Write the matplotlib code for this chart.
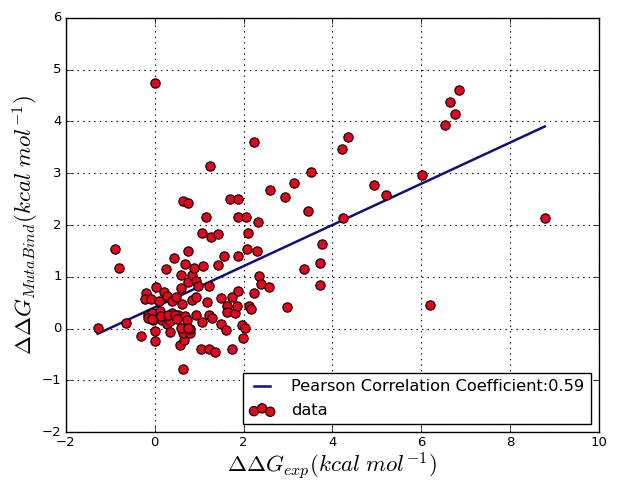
import matplotlib
matplotlib.use("Agg")
import matplotlib.pyplot as plt
import numpy as np

plt.style.use('classic')

# Experimental ddG values (x) and predicted ddG values (y)
ddg_exp = [-1.28, -0.90, -0.81, -0.64, -0.31, 0.00, 0.00, -0.20, -0.22, -0.09,
           -0.15, -0.07, -0.16, -0.03, 0.00, 0.03, 0.09, 0.12, 0.17, 0.15,
           0.21, 0.27, 0.26, 0.27, 0.34, 0.38, 0.34, 0.38, 0.44, 0.47,
           0.47, 0.53, 0.57, 0.60, 0.64, 0.75, 0.66, 0.64, 0.62, 0.68,
           0.72, 0.68, 0.60, 0.75, 0.74, 0.64, 0.79, 0.79, 0.83, 0.89,
           0.85, 0.94, 0.92, 0.98, 0.94, 1.06, 1.04, 1.06, 1.09, 1.16,
           1.17, 1.22, 1.22, 1.28, 1.22, 1.24, 1.27, 1.36, 1.43, 1.43,
           1.49, 1.49, 1.57, 1.60, 1.63, 1.62, 1.69, 1.75, 1.75, 1.81,
           1.87, 1.88, 1.88, 1.88, 1.86, 1.97, 2.03, 1.98, 2.05, 2.10,
           2.08, 2.12, 2.17, 2.23, 2.24, 2.33, 2.31, 2.34, 2.39, 2.59,
           2.58, 2.93, 2.98, 3.14, 3.36, 3.46, 3.51, 3.72, 3.77, 3.72,
           4.22, 4.34, 4.23, 4.94, 5.21, 6.02, 6.19, 6.53, 6.65, 6.76,
           6.85, 8.78, -0.05, 0.30, 0.45, 0.51, 0.60, 0.75]
ddg_pred = [0.02, 1.53, 1.18, 0.10, -0.14, 4.74, -0.23, 0.69, 0.58, 0.58,
            0.27, 0.31, 0.20, 0.17, -0.05, 0.81, 0.54, 0.34, 0.17, 0.24,
            0.71, 0.63, 1.16, 0.08, -0.07, 0.31, 0.14, 0.54, 1.37, 0.61,
            0.24, 0.26, -0.32, 1.03, 2.46, 2.42, -0.22, -0.78, 0.48, 0.24,
            0.17, 1.25, 0.79, 0.90, 1.50, -0.08, -0.08, 0.00, 1.03, 1.17,
            0.56, 0.61, 0.92, 0.82, 0.26, 0.13, -0.40, 1.85, 1.20, 2.16,
            0.51, 0.83, 0.27, 0.21, -0.39, 3.15, 1.76, -0.45, 1.83, 1.23,
            0.60, 0.08, 1.40, -0.03, 0.44, 0.32, 2.50, -0.40, 0.62, 0.31,
            2.50, 2.16, 1.41, 0.73, 0.44, 0.07, 0.02, -0.19, 2.16, 1.85,
            1.53, 0.44, 0.38, 0.68, 3.60, 2.06, 1.50, 1.02, 0.86, 2.68,
            0.81, 2.55, 0.42, 2.81, 1.16, 2.27, 3.02, 1.27, 1.64, 0.84,
            3.46, 3.70, 2.14, 2.77, 2.59, 2.96, 0.45, 3.93, 4.38, 4.14,
            4.60, 2.14, 0.18, 0.27, 0.27, 0.18, 0.02, 0.02]

# Fitted line parameters
fit_slope = 0.398
fit_intercept = 0.41
pearson_r = 0.59

x_ticks = [-2, 0, 2, 4, 6, 8, 10]
y_ticks = [-2, -1, 0, 1, 2, 3, 4, 5, 6]

fig = plt.figure(figsize=(6.26, 4.84), dpi=100, facecolor='white')
ax = fig.add_axes([0.105, 0.107, 0.852, 0.856])
ax.set_facecolor('white')

xs = np.array(ddg_exp)
ys = np.array(ddg_pred)
line_x = np.array([xs.min(), xs.max()])
line_y = fit_slope * line_x + fit_intercept

ax.plot(line_x, line_y, color='#10107a', lw=1.8,
        label='Pearson Correlation Coefficient:%.2f' % pearson_r)
ax.scatter(xs, ys, s=45, c='#e8001c', edgecolors='black', linewidths=0.8,
           label='data', zorder=3)

ax.set_xlim(-2, 10)
ax.set_ylim(-2, 6)
ax.set_xticks(x_ticks)
ax.set_yticks(y_ticks)
ax.tick_params(labelsize=9.5, pad=3)
ax.grid(True, color='black', linestyle=':', linewidth=0.8)
ax.set_axisbelow(True)

ax.set_xlabel(r'$\Delta\Delta G_{exp}(kcal\ mol^{-1})$', fontsize=16.5, labelpad=1)
ax.set_ylabel(r'$\Delta\Delta G_{MutaBind}(kcal\ mol^{-1})$', fontsize=16.5, labelpad=1)

leg = ax.legend(loc='lower right', fontsize=11.7, scatterpoints=3,
                scatteryoffsets=[0.3, 0.55, 0.25], handlelength=1.6,
                handletextpad=1.0, frameon=True, fancybox=False)
leg.get_frame().set_edgecolor('black')

fig.savefig('out.png', dpi=100, facecolor='white')
